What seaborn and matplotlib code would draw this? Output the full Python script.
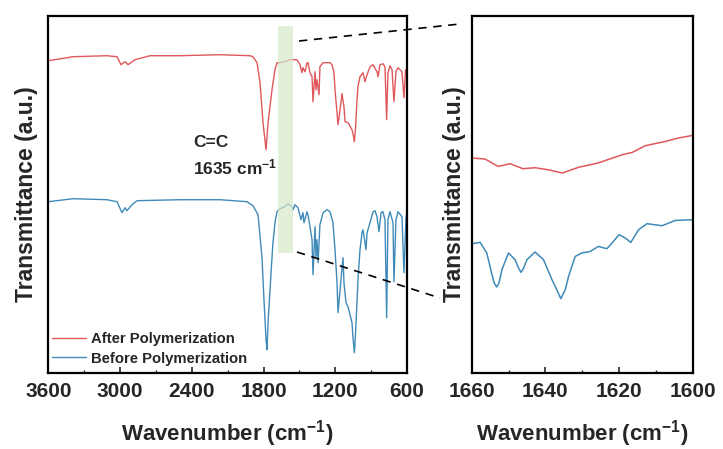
import matplotlib
matplotlib.use("Agg")
import matplotlib.pyplot as plt
from matplotlib.lines import Line2D
from matplotlib.ticker import MultipleLocator
import numpy as np
import pandas as pd
import seaborn as sns

# ---------------- data (arbitrary transmittance units) ----------------
wn_after = [3600, 3393, 3109, 3025, 2992, 2958, 2933, 2875, 2749, 2500, 2164, 1913,
            1888, 1854, 1829, 1804, 1779, 1762, 1729, 1704, 1687, 1662, 1620, 1578,
            1553, 1520, 1495, 1478, 1470, 1453, 1436, 1428, 1411, 1394, 1386, 1369,
            1361, 1353, 1336, 1328, 1302, 1286, 1244, 1227, 1210, 1202, 1185, 1177,
            1152, 1144, 1127, 1118, 1093, 1060, 1050, 1040, 1030, 1018, 1010, 993,
            968, 951, 934, 909, 884, 851, 842, 826, 801, 784, 770, 759, 742, 725,
            709, 692, 675, 642, 625, 612, 600]
t_after = [312, 316, 317, 316, 308, 311, 308, 313, 317, 317, 318, 317,
           316, 310, 290, 250, 223, 250, 283, 303, 310, 310, 311, 313,
           313, 313, 308, 300, 305, 301, 310, 310, 300, 296, 271, 301,
           283, 293, 278, 306, 310, 310, 310, 308, 300, 283, 260, 248,
           270, 279, 266, 251, 250, 243, 238, 231, 245, 273, 286, 296,
           300, 291, 298, 306, 308, 301, 296, 308, 309, 306, 253, 300, 307, 303,
           271, 301, 305, 301, 275, 303, 298]

wn_before = [3600, 3393, 3109, 3025, 2984, 2958, 2942, 2900, 2858, 2500, 2164, 1938,
             1888, 1846, 1813, 1796, 1779, 1771, 1762, 1737, 1721, 1704, 1687, 1662,
             1620, 1595, 1562, 1553, 1537, 1512, 1486, 1470, 1461, 1436, 1428, 1411,
             1394, 1386, 1369, 1361, 1353, 1344, 1328, 1302, 1269, 1244, 1219, 1202,
             1185, 1177, 1152, 1135, 1127, 1110, 1093, 1060, 1050, 1040, 1030, 1018,
             1010, 993, 976, 968, 951, 943, 934, 909, 884, 867, 851, 834, 817, 801,
             784, 770, 759, 742, 717, 709, 692, 675, 642, 625, 608, 600]
t_before = [171, 174, 173, 171, 160, 165, 162, 168, 172, 173, 173, 171,
            167, 158, 116, 73, 33, 23, 50, 100, 130, 150, 161, 164,
            166, 169, 166, 163, 168, 165, 153, 160, 150, 161, 158, 146,
            133, 98, 146, 116, 133, 110, 148, 160, 163, 161, 150, 123,
            90, 60, 93, 115, 90, 70, 66, 50, 33, 20, 40, 70,
            93, 123, 140, 143, 130, 123, 140, 150, 161, 162, 156, 141, 160, 161,
            153, 55, 153, 161, 150, 91, 153, 161, 156, 100, 156, 160]

# zoomed region around the C=C stretch
wn_after_zoom = [1660, 1656.4, 1652.8, 1649.6, 1646.1, 1642.8, 1639.3, 1635.4, 1631.1,
                 1625.7, 1619.1, 1616.4, 1612.9, 1607.4, 1603.9, 1600]
t_after_zoom = [214.7, 213.7, 206.3, 209, 204, 205, 203, 199.7, 205.3,
                209.7, 218, 220.3, 227, 231.3, 234.7, 237.3]

wn_before_zoom = [1660, 1657.7, 1655.9, 1654.6, 1653.9, 1653.2, 1652.6, 1651.8, 1650.0,
                  1648.2, 1647.3, 1646.6, 1645.9, 1645.0, 1642.8, 1640.5, 1638.2,
                  1636.9, 1635.8, 1634.6, 1633.7, 1631.9, 1630.1, 1627.8, 1625.6,
                  1623.3, 1621.9, 1620.0, 1618.3, 1616.8, 1614.7, 1612.4, 1608.3,
                  1604.7, 1600]
t_before_zoom = [129, 130.3, 119.7, 99.7, 89.7, 85.7, 89.7, 103, 119.7,
                 113, 104.7, 100.3, 104.7, 113, 120.7, 113, 93,
                 83, 74, 83, 96.3, 116.3, 119.7, 121.3, 126.3,
                 124, 129.7, 138, 134.7, 130.3, 143, 149, 147,
                 152.3, 153]

series_labels = ["After Polymerization", "Before Polymerization"]
xticks_full = [3600, 3000, 2400, 1800, 1200, 600]
xticks_zoom = [1660, 1640, 1620, 1600]

red = "#E0585C"
blue = "#3F8AB8"
band_color = "#D6EACA"
band_lo, band_hi = 1553, 1679

# ---------------- style ----------------
sns.set_theme(style="ticks")
plt.rcParams["font.family"] = ["Liberation Sans", "DejaVu Sans"]
plt.rcParams["font.weight"] = "bold"
plt.rcParams["axes.labelweight"] = "bold"
plt.rcParams["mathtext.fontset"] = "custom"
plt.rcParams["mathtext.rm"] = "Liberation Sans:bold"
plt.rcParams["mathtext.it"] = "Liberation Sans:bold"
plt.rcParams["mathtext.bf"] = "Liberation Sans:bold"
plt.rcParams["mathtext.default"] = "rm"

fig = plt.figure(figsize=(7.23, 4.49), dpi=100)
ax1 = fig.add_axes([0.0668, 0.1699, 0.4961, 0.7951])
ax2 = fig.add_axes([0.6524, 0.1699, 0.3057, 0.7951])

df_after = pd.DataFrame({"wn": wn_after, "t": t_after})
df_before = pd.DataFrame({"wn": wn_before, "t": t_before})
sns.lineplot(data=df_after, x="wn", y="t", ax=ax1, color=red, lw=1.0,
             label=series_labels[0], estimator=None)
sns.lineplot(data=df_before, x="wn", y="t", ax=ax1, color=blue, lw=1.0,
             label=series_labels[1], estimator=None)

dfz_after = pd.DataFrame({"wn": wn_after_zoom, "t": t_after_zoom})
dfz_before = pd.DataFrame({"wn": wn_before_zoom, "t": t_before_zoom})
sns.lineplot(data=dfz_after, x="wn", y="t", ax=ax2, color=red, lw=1.1,
             estimator=None, legend=False)
sns.lineplot(data=dfz_before, x="wn", y="t", ax=ax2, color=blue, lw=1.1,
             estimator=None, legend=False)

# highlighted C=C band
ax1.fill_between([band_lo, band_hi], 120, 347, color=band_color, alpha=0.7,
                 lw=0, zorder=3)

ax1.text(2390, 226, "C=C", fontsize=12.5, fontweight="bold", va="baseline")
ax1.text(2390, 198, "1635 cm$^{-1}$", fontsize=12.5, fontweight="bold", va="baseline")

for ax, lim, ticks, minor in [(ax1, (3600, 600), xticks_full, 300),
                              (ax2, (1660, 1600), xticks_zoom, 10)]:
    ax.set_xlim(*lim)
    ax.set_ylim(0, 357)
    ax.set_xticks(ticks)
    ax.set_xticklabels([str(t) for t in ticks])
    ax.xaxis.set_minor_locator(MultipleLocator(minor))
    ax.set_yticks([])
    ax.tick_params(axis="x", which="major", direction="in", length=4, width=1.2,
                   labelsize=15, pad=7)
    ax.tick_params(axis="x", which="minor", direction="in", length=2.5, width=1.0)
    for lbl in ax.get_xticklabels():
        lbl.set_fontweight("bold")
    for s in ax.spines.values():
        s.set_visible(True)
        s.set_linewidth(1.6)
        s.set_color("black")
    ax.set_xlabel("Wavenumber (cm$^{-1}$)", fontsize=16, fontweight="bold")
    ax.set_ylabel("Transmittance (a.u.)", fontsize=16.5, fontweight="bold")
    ax.xaxis.set_label_coords(0.5, -0.128)

ax1.yaxis.set_label_coords(-0.03, 0.5)
ax2.yaxis.set_label_coords(-0.026, 0.5)

leg = ax1.legend(loc="lower left", bbox_to_anchor=(0.01, 0.02), frameon=False,
                 borderpad=0, borderaxespad=0, handlelength=2.3, handletextpad=0.35,
                 labelspacing=0.35, prop={"size": 10.7, "weight": "bold"})

# dashed guide lines from the band to the zoomed panel
W, H = 723, 449
for (x0, y0), (x1, y1) in [((299, 41), (460, 24)), ((297, 252), (440, 298))]:
    fig.add_artist(Line2D([x0 / W, x1 / W], [1 - y0 / H, 1 - y1 / H],
                          transform=fig.transFigure, color="black", lw=1.2,
                          ls=(0, (5, 4))))

fig.savefig("out.png", dpi=100)
